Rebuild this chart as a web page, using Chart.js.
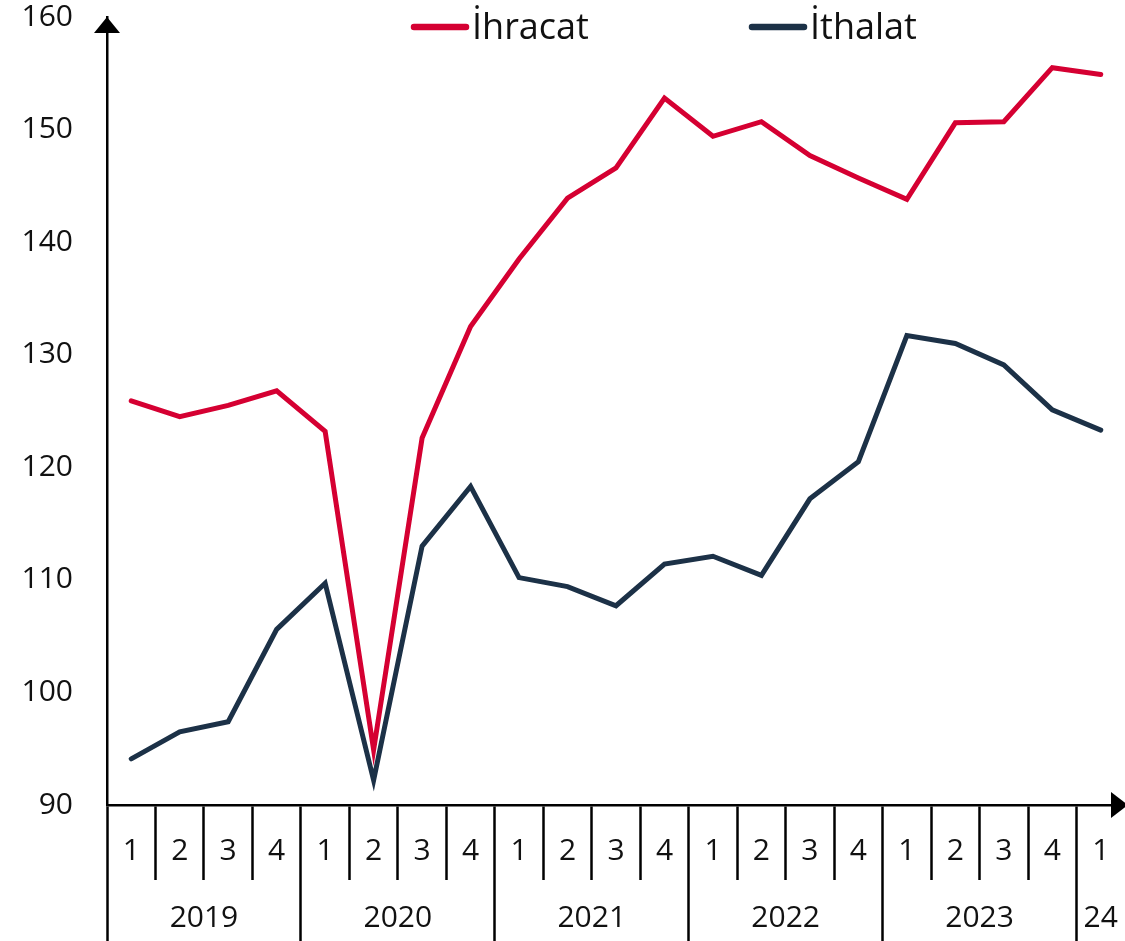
<!DOCTYPE html>
<html><head><meta charset="utf-8">
<script src="https://cdn.jsdelivr.net/npm/chart.js@4/dist/chart.umd.min.js"></script>
<style>html,body{margin:0;padding:0;background:#fff;overflow:hidden}canvas{display:block}</style>
</head><body>
<canvas id="c" width="1125" height="941"></canvas>
<script>
// ---- data ----
const years = ['2019', '2020', '2021', '2022', '2023', '24'];
const quartersPerYear = [4, 4, 4, 4, 4, 1];
const seriesNames = ['İhracat', 'İthalat'];
const ihracat = [125.9, 124.5, 125.5, 126.8, 123.2, 94.9, 122.6, 132.5, 138.5, 143.9, 146.6, 152.8, 149.4, 150.7, 147.7, 145.7, 143.8, 150.6, 150.7, 155.5, 154.9];
const ithalat = [94.1, 96.5, 97.4, 105.6, 109.7, 92.2, 113.0, 118.3, 110.2, 109.4, 107.7, 111.4, 112.1, 110.4, 117.2, 120.5, 131.7, 131.0, 129.1, 125.1, 123.3];
const yMin = 90, yMax = 160, yStep = 10;

// ---- derived categories ----
const quarterLabels = [];
const yearTickVals = [];   // {value, label, boundary}
let idx = 0;
years.forEach((y, i) => {
  const n = quartersPerYear[i];
  yearTickVals.push({ value: idx - 0.5, label: '', boundary: true });
  yearTickVals.push({ value: idx + (n - 1) / 2, label: y, boundary: false });
  for (let q = 1; q <= n; q++) quarterLabels.push(String(q));
  idx += n;
});

const FONT = "'Open Sans', 'Noto Sans', sans-serif";
const TXT = '#111';
const RED = '#d50032';
const NAVY = '#1c3147';

const decor = {
  id: 'decor',
  afterDraw(chart) {
    const ctx = chart.ctx;
    const a = chart.chartArea;
    ctx.save();
    ctx.fillStyle = '#000';
    // y arrow
    ctx.beginPath();
    ctx.moveTo(a.left, a.top);
    ctx.lineTo(a.left - 13, a.top + 16);
    ctx.lineTo(a.left + 13, a.top + 16);
    ctx.closePath();
    ctx.fill();
    // x arrow
    ctx.beginPath();
    ctx.moveTo(a.right + 3, a.bottom);
    ctx.lineTo(a.right - 14, a.bottom - 13);
    ctx.lineTo(a.right - 14, a.bottom + 13);
    ctx.closePath();
    ctx.fill();
    // legend
    const items = [{ x: 414, tx: 472 }, { x: 752, tx: 810 }];
    ctx.font = '36px ' + FONT;
    ctx.textBaseline = 'alphabetic';
    ctx.textAlign = 'left';
    chart.data.datasets.forEach((ds, i) => {
      const it = items[i];
      ctx.strokeStyle = ds.borderColor;
      ctx.lineWidth = 6.5;
      ctx.lineCap = 'round';
      ctx.beginPath();
      ctx.moveTo(it.x, 27);
      ctx.lineTo(it.x + 52, 27);
      ctx.stroke();
      ctx.fillStyle = TXT;
      ctx.fillText(ds.label, it.tx, 38.5);
    });
    ctx.restore();
  }
};

new Chart(document.getElementById('c'), {
  type: 'line',
  data: {
    labels: quarterLabels,
    datasets: [
      { label: seriesNames[0], data: ihracat, borderColor: RED, backgroundColor: RED, borderWidth: 5, pointRadius: 0, tension: 0, borderJoinStyle: 'miter', borderCapStyle: 'round' },
      { label: seriesNames[1], data: ithalat, borderColor: NAVY, backgroundColor: NAVY, borderWidth: 5, pointRadius: 0, tension: 0, borderJoinStyle: 'miter', borderCapStyle: 'round' }
    ]
  },
  options: {
    responsive: false,
    devicePixelRatio: 1,
    animation: false,
    layout: { padding: { top: 17, right: 0, left: 0, bottom: 0 } },
    plugins: { legend: { display: false }, tooltip: { enabled: false } },
    scales: {
      y: {
        min: yMin, max: yMax,
        afterFit: s => { s.width = 107; s.paddingTop = 0; s.paddingBottom = 0; },
        ticks: { stepSize: yStep, padding: 34, color: TXT, font: { family: FONT, size: 30 } },
        grid: { display: false, drawTicks: false },
        border: { display: true, color: '#000', width: 2.5 }
      },
      x: {
        type: 'category',
        position: 'bottom',
        weight: 0,
        offset: true,
        afterFit: s => { s.height = 75; s.paddingLeft = 0; s.paddingRight = 0; },
        ticks: { autoSkip: false, maxRotation: 0, padding: -47, color: TXT, font: { family: FONT, size: 30 } },
        grid: {
          offset: true, drawOnChartArea: false, drawTicks: true, tickLength: 75, tickWidth: 2.5,
          tickColor: c => (c.type === 'tick' ? '#000' : 'rgba(0,0,0,0)')
        },
        border: { display: true, color: '#000', width: 2.5 }
      },
      x2: {
        type: 'linear',
        position: 'bottom',
        weight: 1,
        min: -0.5, max: quarterLabels.length - 0.5,
        afterFit: s => { s.height = 61; s.paddingLeft = 0; s.paddingRight = 0; },
        afterBuildTicks: s => { s.ticks = yearTickVals.map(t => ({ value: t.value })); },
        ticks: {
          autoSkip: false, maxRotation: 0, padding: -41, color: TXT, font: { family: FONT, size: 30 },
          callback: (v) => { const t = yearTickVals.find(t => t.value === v); return t ? t.label : ''; }
        },
        grid: {
          drawOnChartArea: false, drawTicks: true, tickLength: 61, tickWidth: 2.5,
          tickColor: c => { const t = c.tick && yearTickVals.find(t => t.value === c.tick.value); return t && t.boundary ? '#000' : 'rgba(0,0,0,0)'; }
        },
        border: { display: false }
      }
    }
  },
  plugins: [decor]
});
</script>
</body></html>
